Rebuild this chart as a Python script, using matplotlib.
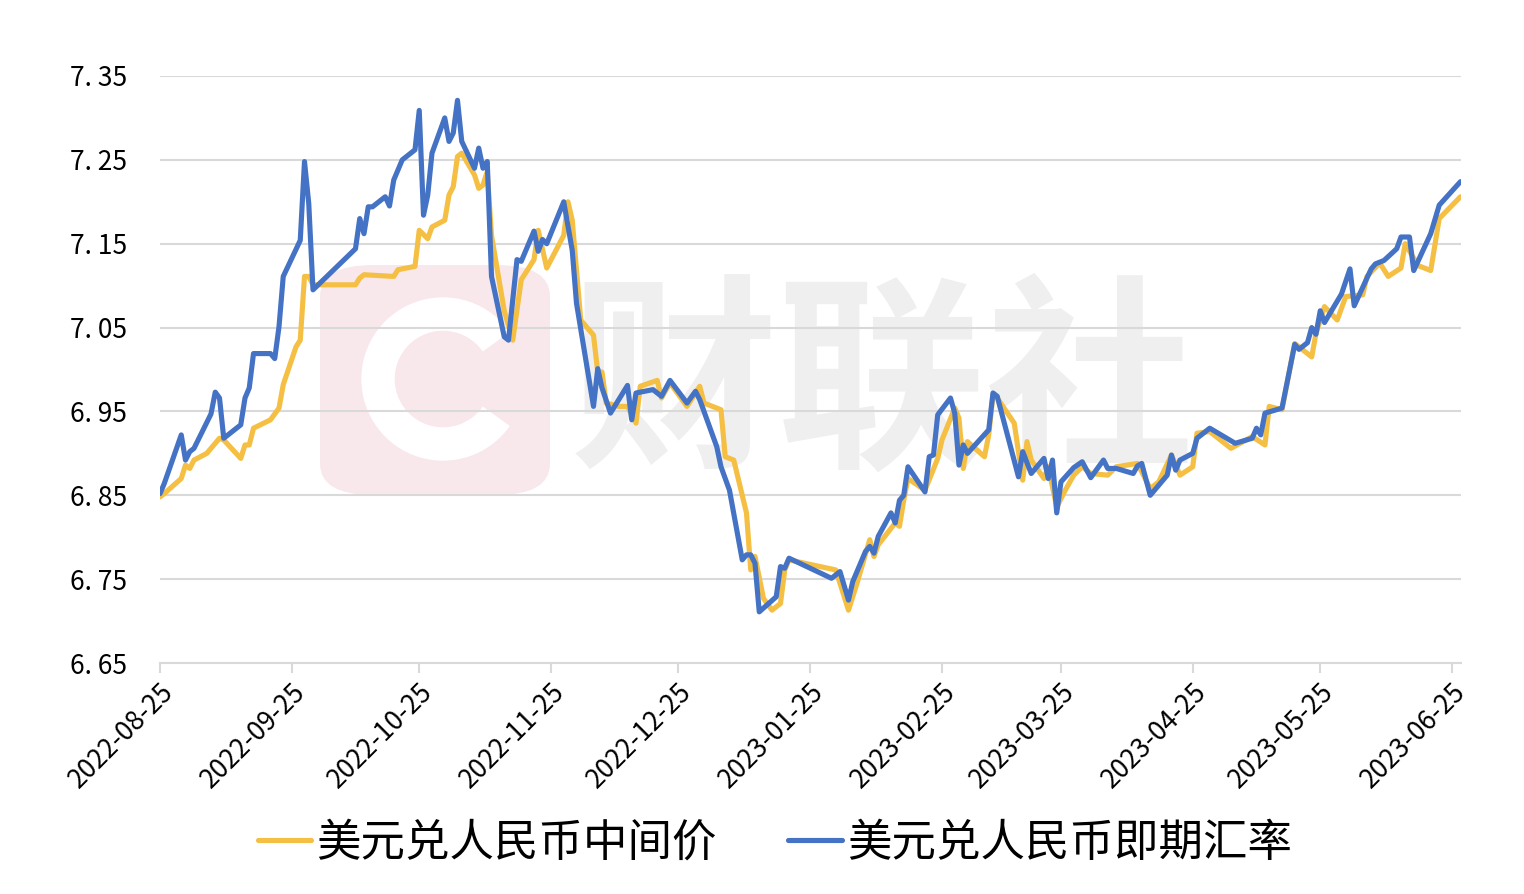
import matplotlib
matplotlib.use("Agg")
import matplotlib.pyplot as plt
import matplotlib.dates as mdates
import pandas as pd
from matplotlib.patches import FancyBboxPatch, Arc
from matplotlib.ticker import FuncFormatter

plt.rcParams["font.family"] = ["Noto Sans CJK SC", "DejaVu Sans"]

YELLOW = "#F4BF42"; BLUE = "#4472C4"; GRID = "#D9D9D9"

# 美元兑人民币中间价
mid_dates = [
    "2022-08-25", "2022-08-26", "2022-08-30", "2022-08-31", "2022-09-01", "2022-09-02", "2022-09-05",
    "2022-09-08", "2022-09-09", "2022-09-13", "2022-09-14", "2022-09-15", "2022-09-16", "2022-09-20",
    "2022-09-22", "2022-09-23", "2022-09-26", "2022-09-27", "2022-09-28", "2022-09-29", "2022-09-30",
    "2022-10-10", "2022-10-11", "2022-10-12", "2022-10-19", "2022-10-20", "2022-10-24", "2022-10-25",
    "2022-10-27", "2022-10-28", "2022-10-31", "2022-11-01", "2022-11-02", "2022-11-03", "2022-11-04",
    "2022-11-07", "2022-11-08", "2022-11-09", "2022-11-10", "2022-11-11", "2022-11-14", "2022-11-16",
    "2022-11-18", "2022-11-21", "2022-11-22", "2022-11-24", "2022-11-28", "2022-11-29", "2022-11-30",
    "2022-12-02", "2022-12-05", "2022-12-06", "2022-12-07", "2022-12-08", "2022-12-11", "2022-12-13",
    "2022-12-15", "2022-12-16", "2022-12-20", "2022-12-21", "2022-12-23", "2022-12-27", "2022-12-30",
    "2022-12-31", "2023-01-04", "2023-01-05", "2023-01-07", "2023-01-10", "2023-01-11", "2023-01-12",
    "2023-01-14", "2023-01-16", "2023-01-18", "2023-01-19", "2023-01-20", "2023-01-31", "2023-02-03",
    "2023-02-05", "2023-02-08", "2023-02-09", "2023-02-10", "2023-02-14", "2023-02-15", "2023-02-16",
    "2023-02-17", "2023-02-21", "2023-02-24", "2023-02-25", "2023-02-28", "2023-03-01", "2023-03-02",
    "2023-03-03", "2023-03-07", "2023-03-08", "2023-03-09", "2023-03-10", "2023-03-14", "2023-03-16",
    "2023-03-17", "2023-03-18", "2023-03-21", "2023-03-22", "2023-03-24", "2023-03-26", "2023-03-28",
    "2023-03-30", "2023-04-01", "2023-04-05", "2023-04-07", "2023-04-12", "2023-04-15", "2023-04-17",
    "2023-04-20", "2023-04-22", "2023-04-25", "2023-04-26", "2023-04-29", "2023-05-04", "2023-05-09",
    "2023-05-12", "2023-05-13", "2023-05-16", "2023-05-19", "2023-05-23", "2023-05-24", "2023-05-26",
    "2023-05-29", "2023-05-31", "2023-06-04", "2023-06-05", "2023-06-08", "2023-06-10", "2023-06-13",
    "2023-06-14", "2023-06-17", "2023-06-20", "2023-06-22", "2023-06-27"]
mid_rate = [
    6.848, 6.852, 6.870, 6.886, 6.882, 6.892, 6.900,
    6.918, 6.916, 6.894, 6.910, 6.910, 6.930, 6.940,
    6.954, 6.982, 7.027, 7.035, 7.111, 7.111, 7.101,
    7.101, 7.109, 7.113, 7.111, 7.119, 7.123, 7.166,
    7.156, 7.170, 7.178, 7.208, 7.218, 7.254, 7.258,
    7.232, 7.216, 7.220, 7.236, 7.160, 7.070, 7.035,
    7.107, 7.131, 7.166, 7.121, 7.160, 7.200, 7.178,
    7.059, 7.041, 6.997, 6.997, 6.960, 6.956, 6.956,
    6.936, 6.980, 6.987, 6.966, 6.984, 6.956, 6.980,
    6.960, 6.952, 6.896, 6.892, 6.829, 6.761, 6.777,
    6.727, 6.713, 6.721, 6.761, 6.773, 6.761, 6.713,
    6.745, 6.797, 6.777, 6.791, 6.817, 6.813, 6.844,
    6.870, 6.856, 6.894, 6.916, 6.954, 6.942, 6.882,
    6.914, 6.896, 6.922, 6.970, 6.966, 6.936, 6.868,
    6.914, 6.892, 6.870, 6.884, 6.836, 6.856, 6.874,
    6.884, 6.876, 6.874, 6.884, 6.888, 6.858, 6.866,
    6.898, 6.874, 6.884, 6.924, 6.926, 6.906, 6.920,
    6.910, 6.956, 6.952, 7.031, 7.015, 7.043, 7.075,
    7.059, 7.087, 7.089, 7.111, 7.127, 7.111, 7.121,
    7.150, 7.124, 7.118, 7.180, 7.206]

# 美元兑人民币即期汇率
spot_dates = [
    "2022-08-25", "2022-08-26", "2022-08-30", "2022-08-31", "2022-09-01", "2022-09-02", "2022-09-06",
    "2022-09-07", "2022-09-08", "2022-09-09", "2022-09-13", "2022-09-14", "2022-09-15", "2022-09-16",
    "2022-09-20", "2022-09-21", "2022-09-22", "2022-09-23", "2022-09-27", "2022-09-28", "2022-09-29",
    "2022-09-30", "2022-10-10", "2022-10-11", "2022-10-12", "2022-10-13", "2022-10-14", "2022-10-17",
    "2022-10-18", "2022-10-19", "2022-10-21", "2022-10-24", "2022-10-25", "2022-10-26", "2022-10-27",
    "2022-10-28", "2022-10-31", "2022-11-01", "2022-11-02", "2022-11-03", "2022-11-04", "2022-11-07",
    "2022-11-08", "2022-11-09", "2022-11-10", "2022-11-11", "2022-11-14", "2022-11-15", "2022-11-17",
    "2022-11-18", "2022-11-21", "2022-11-22", "2022-11-23", "2022-11-24", "2022-11-28", "2022-11-30",
    "2022-12-01", "2022-12-05", "2022-12-06", "2022-12-07", "2022-12-09", "2022-12-13", "2022-12-14",
    "2022-12-15", "2022-12-19", "2022-12-21", "2022-12-23", "2022-12-27", "2022-12-29", "2022-12-30",
    "2023-01-03", "2023-01-04", "2023-01-06", "2023-01-09", "2023-01-10", "2023-01-11", "2023-01-12",
    "2023-01-13", "2023-01-17", "2023-01-18", "2023-01-19", "2023-01-20", "2023-01-30", "2023-02-01",
    "2023-02-03", "2023-02-04", "2023-02-07", "2023-02-08", "2023-02-09", "2023-02-10", "2023-02-13",
    "2023-02-14", "2023-02-15", "2023-02-16", "2023-02-17", "2023-02-21", "2023-02-22", "2023-02-23",
    "2023-02-24", "2023-02-27", "2023-02-28", "2023-03-01", "2023-03-02", "2023-03-03", "2023-03-08",
    "2023-03-09", "2023-03-10", "2023-03-15", "2023-03-16", "2023-03-18", "2023-03-21", "2023-03-22",
    "2023-03-23", "2023-03-24", "2023-03-25", "2023-03-28", "2023-03-30", "2023-04-01", "2023-04-04",
    "2023-04-05", "2023-04-07", "2023-04-11", "2023-04-12", "2023-04-13", "2023-04-15", "2023-04-19",
    "2023-04-20", "2023-04-21", "2023-04-22", "2023-04-25", "2023-04-26", "2023-04-29", "2023-05-05",
    "2023-05-09", "2023-05-10", "2023-05-11", "2023-05-12", "2023-05-16", "2023-05-19", "2023-05-20",
    "2023-05-22", "2023-05-23", "2023-05-24", "2023-05-25", "2023-05-26", "2023-05-30", "2023-06-01",
    "2023-06-02", "2023-06-06", "2023-06-07", "2023-06-09", "2023-06-12", "2023-06-13", "2023-06-15",
    "2023-06-16", "2023-06-20", "2023-06-22", "2023-06-27"]
spot_rate = [
    6.852, 6.864, 6.922, 6.892, 6.902, 6.906, 6.947,
    6.973, 6.966, 6.918, 6.934, 6.966, 6.978, 7.019,
    7.019, 7.013, 7.051, 7.111, 7.154, 7.248, 7.198,
    7.095, 7.144, 7.180, 7.162, 7.194, 7.194, 7.206,
    7.195, 7.226, 7.250, 7.262, 7.309, 7.184, 7.208,
    7.258, 7.300, 7.272, 7.282, 7.321, 7.272, 7.240,
    7.264, 7.240, 7.248, 7.111, 7.039, 7.035, 7.131,
    7.129, 7.165, 7.141, 7.155, 7.150, 7.200, 7.142,
    7.079, 6.956, 7.001, 6.978, 6.948, 6.981, 6.940,
    6.972, 6.976, 6.968, 6.987, 6.960, 6.974, 6.964,
    6.908, 6.884, 6.856, 6.773, 6.779, 6.779, 6.769,
    6.711, 6.729, 6.765, 6.763, 6.775, 6.751, 6.759,
    6.725, 6.747, 6.783, 6.789, 6.781, 6.801, 6.829,
    6.817, 6.844, 6.850, 6.884, 6.854, 6.896, 6.898,
    6.946, 6.966, 6.948, 6.886, 6.910, 6.900, 6.928,
    6.972, 6.968, 6.872, 6.902, 6.876, 6.894, 6.870,
    6.892, 6.829, 6.866, 6.883, 6.890, 6.871, 6.892,
    6.882, 6.882, 6.876, 6.885, 6.888, 6.850, 6.874,
    6.898, 6.880, 6.892, 6.900, 6.918, 6.930, 6.912,
    6.918, 6.930, 6.922, 6.948, 6.954, 7.030, 7.024,
    7.032, 7.050, 7.042, 7.070, 7.056, 7.090, 7.120,
    7.076, 7.120, 7.126, 7.130, 7.144, 7.158, 7.158,
    7.118, 7.162, 7.196, 7.224]

tick_dates = ["2022-08-25", "2022-09-25", "2022-10-25", "2022-11-25", "2022-12-25", "2023-01-25",
              "2023-02-25", "2023-03-25", "2023-04-25", "2023-05-25", "2023-06-25"]
y_ticks = [6.65, 6.75, 6.85, 6.95, 7.05, 7.15, 7.25, 7.35]
labels = ["美元兑人民币中间价", "美元兑人民币即期汇率"]

fig = plt.figure(figsize=(15.24, 8.94), dpi=100)
fig.patch.set_facecolor("white")
ax = fig.add_axes([160/1524, 1-663/894, (1461-160)/1524, (663-76)/894])
ax.set_facecolor("none")

# watermark, kept behind grid and lines
ax.add_patch(FancyBboxPatch((320/1524, 1-495/894), 230/1524, 230/894, boxstyle="round,pad=0,rounding_size=0.035",
                            transform=fig.transFigure, facecolor="#F8E8EC", edgecolor="none", zorder=0.2, clip_on=False))
ax.add_patch(Arc((443/1524, 1-379/894), 130/1524, 130/894, theta1=50, theta2=310, transform=fig.transFigure,
                 color="white", lw=24, zorder=0.3, clip_on=False))
ax.text(882/1524, 1-390/894, "财联社", transform=fig.transFigure, fontsize=150, fontweight="bold",
        color="#EFEFEF", ha="center", va="center", zorder=0.1)

md = pd.to_datetime(mid_dates); sd = pd.to_datetime(spot_dates)
l1, = ax.plot(md, mid_rate, color=YELLOW, lw=3.7, zorder=3, solid_joinstyle="round", solid_capstyle="round")
l2, = ax.plot(sd, spot_rate, color=BLUE, lw=3.7, zorder=4, solid_joinstyle="round", solid_capstyle="round")

ax.set_ylim(6.65, 7.35)
ax.set_yticks(y_ticks)
ax.yaxis.set_major_formatter(FuncFormatter(lambda v, _: f"{v:.2f}".replace(".", ". ")))
ax.set_xlim(pd.Timestamp("2022-08-25"), pd.Timestamp("2023-06-27 03:00"))
ax.set_xticks(pd.to_datetime(tick_dates))
ax.xaxis.set_major_formatter(mdates.DateFormatter("%Y-%m-%d"))
ax.grid(axis="y", color=GRID, lw=1.5, zorder=1)
for s in ("top", "right", "left"): ax.spines[s].set_visible(False)
ax.spines["bottom"].set_color(GRID); ax.spines["bottom"].set_linewidth(1.5); ax.spines["bottom"].set_zorder(1)
ax.tick_params(axis="y", length=0, pad=24, labelsize=19, colors="black")
ax.tick_params(axis="x", length=7, width=1.5, color=GRID, pad=4, labelsize=19, labelcolor="black")
for t in ax.get_xticklabels():
    t.set_rotation(45); t.set_ha("right"); t.set_va("top"); t.set_rotation_mode("anchor")

fig.legend([l1, l2], labels, loc="center", bbox_to_anchor=(0.5085, 0.057), ncol=2, frameon=False,
           fontsize=32, handlelength=1.2, handletextpad=0.12, columnspacing=1.6)

fig.savefig("out.png", dpi=100, facecolor="white")
